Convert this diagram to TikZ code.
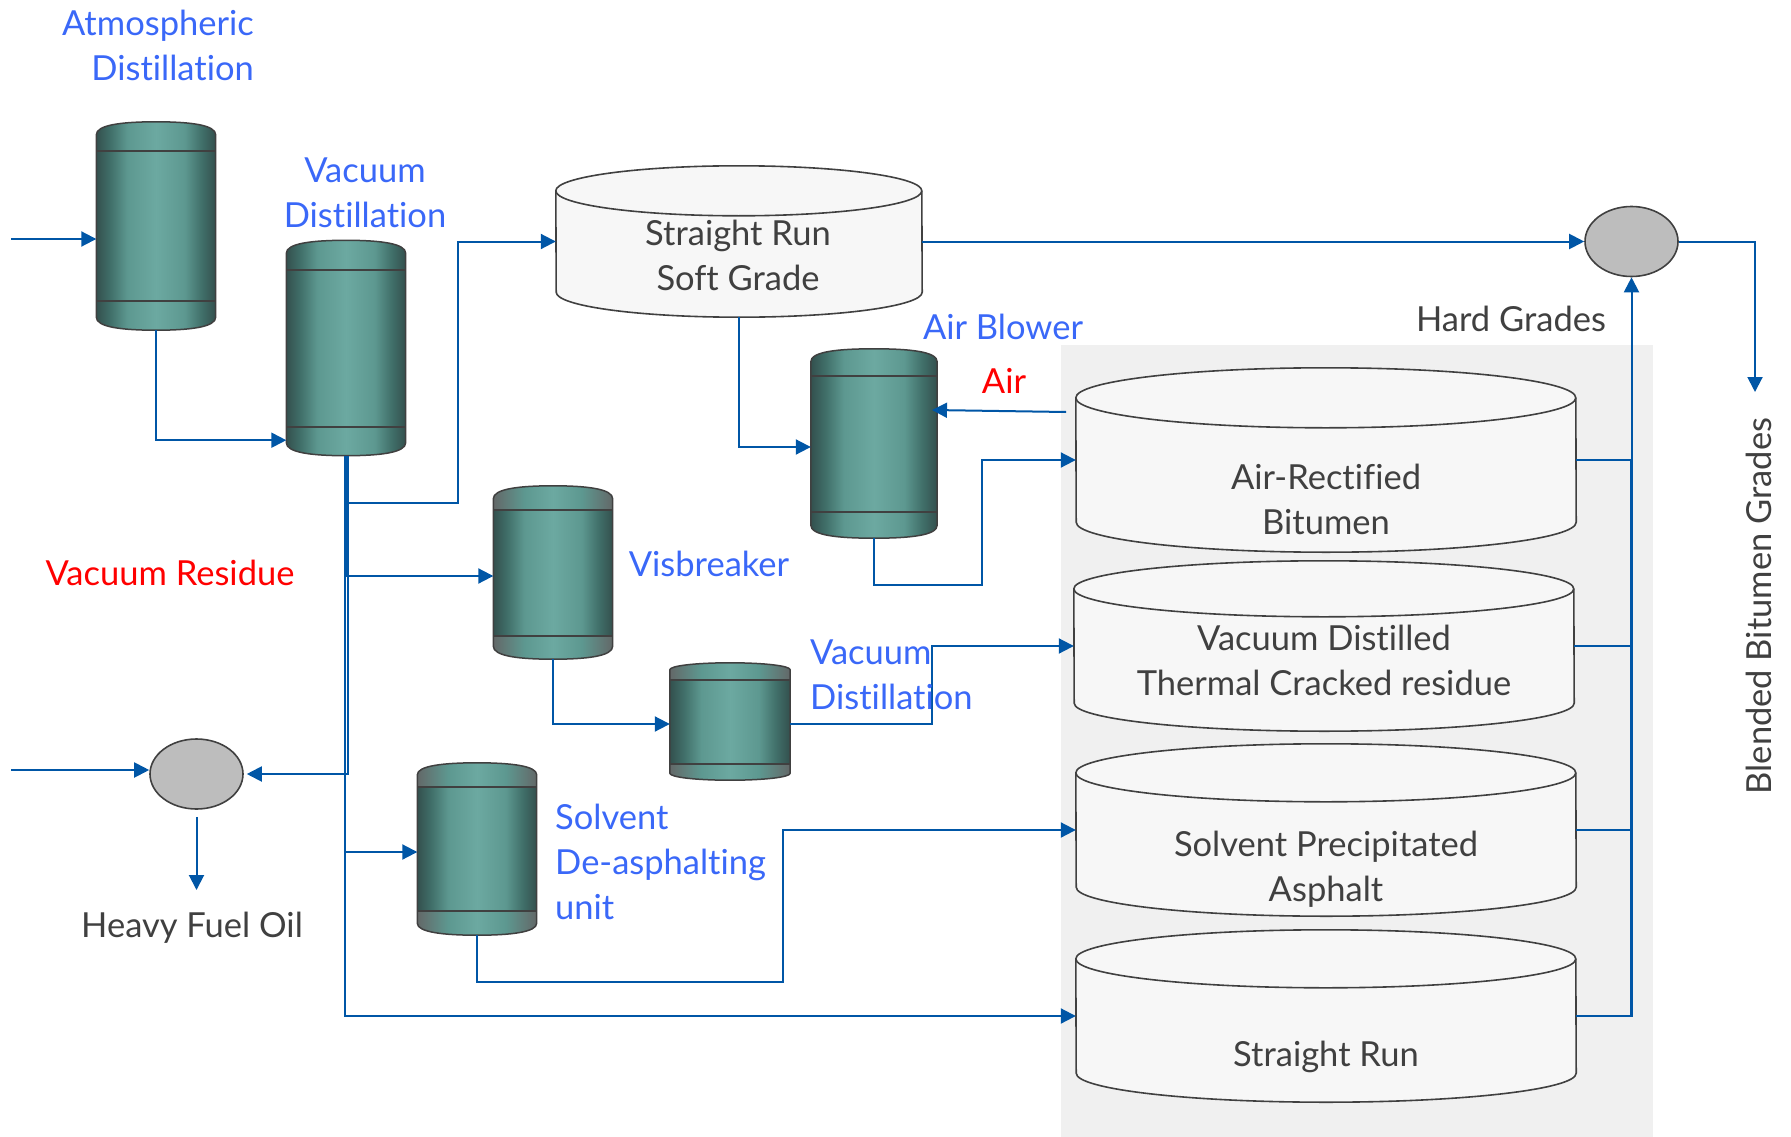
\documentclass[tikz,border=0pt]{standalone}
\usepackage{fontspec}
\setmainfont[Ligatures=NoCommon]{Lato}
\usetikzlibrary{arrows.meta,calc,shapes.geometric}
\definecolor{flowblue}{HTML}{0056A6}
\definecolor{labelblue}{HTML}{3A68F8}
\definecolor{labeldark}{HTML}{404040}
\definecolor{vesseldark}{HTML}{33504E}
\definecolor{vesselshade}{HTML}{41706A}
\definecolor{vesselmid}{HTML}{5D9890}
\definecolor{vessellight}{HTML}{6CA9A1}
\definecolor{capgrey}{HTML}{636868}
\definecolor{tankfill}{HTML}{F7F7F7}
\definecolor{panelfill}{HTML}{F0F0F0}
\definecolor{mixfill}{HTML}{BDBDBD}
\pgfdeclarehorizontalshading{vesselbody}{100bp}{color(0bp)=(vesseldark); color(25bp)=(vesseldark); color(31bp)=(vesselshade); color(38bp)=(vesselmid); color(50bp)=(vessellight); color(62bp)=(vesselmid); color(69bp)=(vesselshade); color(75bp)=(vesseldark); color(100bp)=(vesseldark)}
\pgfdeclarehorizontalshading{vesselcap}{100bp}{color(0bp)=(capgrey); color(25bp)=(capgrey); color(38bp)=(vesselmid); color(50bp)=(vessellight); color(62bp)=(vesselmid); color(75bp)=(capgrey); color(100bp)=(capgrey)}
\newcommand{\mysize}{\fontsize{34.5}{45}\selectfont}
\tikzset{
    node style tank/.style={rectangle,inner sep=0pt},
    node style mix/.style={draw=labeldark,line width=1.6pt,fill=mixfill,ellipse,inner sep=0pt,minimum width=93pt,minimum height=70pt},
    node style vessel/.style={rectangle,inner sep=0pt},
    node style label/.style={font=\mysize,text=labelblue,inner sep=0pt},
    node style name/.style={font=\mysize,text=labeldark,inner sep=0pt,align=center},
    line style flow/.style={draw=flowblue,line width=2pt},
    arrow style flow/.style={line style flow,-{Triangle[length=15pt,width=15pt]}},
    line style vessel/.style={draw=labeldark,line width=1.5pt},
    line style band/.style={draw=labeldark,line width=2.2pt},
    line style tank/.style={draw=labeldark,line width=1.6pt},
}
% #1 node, #2 top band, #3 bottom band, #4 shading of the caps, #5 height of the dome
\newcommand{\myvessel}[5]{
  \path[shading=#4] ($(#1.north west)+(0,#2)$) -- ($(#1.north west)+(0,#5)$) .. controls ($(#1.north west)+(0,3)$) and ($(#1.north west)+(26,0)$) .. (#1.north) .. controls ($(#1.north east)+(-26,0)$) and ($(#1.north east)+(0,3)$) .. ($(#1.north east)+(0,#5)$) -- ($(#1.north east)+(0,#2)$) -- cycle;
  \path[shading=vesselbody] ($(#1.north west)+(0,#2)$) rectangle ($(#1.south east)+(0,-#3)$);
  \path[shading=#4] ($(#1.south west)+(0,-#3)$) -- ($(#1.south west)+(0,-#5)$) .. controls ($(#1.south west)+(0,-3)$) and ($(#1.south west)+(26,0)$) .. (#1.south) .. controls ($(#1.south east)+(-26,0)$) and ($(#1.south east)+(0,-3)$) .. ($(#1.south east)+(0,-#5)$) -- ($(#1.south east)+(0,-#3)$) -- cycle;
  \draw[line style vessel] ($(#1.north west)+(0,#5)$) .. controls ($(#1.north west)+(0,3)$) and ($(#1.north west)+(26,0)$) .. (#1.north) .. controls ($(#1.north east)+(-26,0)$) and ($(#1.north east)+(0,3)$) .. ($(#1.north east)+(0,#5)$) -- ($(#1.south east)+(0,-#5)$) .. controls ($(#1.south east)+(0,-3)$) and ($(#1.south east)+(-26,0)$) .. (#1.south) .. controls ($(#1.south west)+(26,0)$) and ($(#1.south west)+(0,-3)$) .. ($(#1.south west)+(0,-#5)$) -- cycle;
  \draw[line style band] ($(#1.north west)+(0,#2)$) -- ($(#1.north east)+(0,#2)$);
  \draw[line style band] ($(#1.south west)+(0,-#3)$) -- ($(#1.south east)+(0,-#3)$);
}
% #1 node, #2 half width, #3 half height of the end
\newcommand{\mytank}[3]{
  \draw[line style tank,fill=tankfill] ($(#1.north west)+(0,#3)$) arc[start angle=180,end angle=0,x radius=#2pt,y radius=#3pt] -- ($(#1.south east)+(0,-#3)$) arc[start angle=0,end angle=-180,x radius=#2pt,y radius=#3pt] -- cycle;
  \draw[line style tank] ($(#1.north west)+(0,#3)$) arc[start angle=180,end angle=360,x radius=#2pt,y radius=#3pt];
}

\begin{document}
\begin{tikzpicture}[x=1pt,y=-1pt]
  \useasboundingbox (0,0) rectangle (1791,1137);
  \node [fill=panelfill,inner sep=0pt,minimum width=592pt,minimum height=792pt] (panel) at (1357,741) {};

  % vessels
  \node [node style vessel,minimum width=119pt,minimum height=208pt] (atm) at (156,226) {};
  \node [node style vessel,minimum width=119pt,minimum height=215pt] (vac) at (346,348) {};
  \node [node style vessel,minimum width=126pt,minimum height=189pt] (blower) at (874,443.5) {};
  \node [node style vessel,minimum width=119pt,minimum height=173pt] (visb) at (553,572.5) {};
  \node [node style vessel,minimum width=120pt,minimum height=117pt] (vacsmall) at (730,721.5) {};
  \node [node style vessel,minimum width=119pt,minimum height=172pt] (solv) at (477,849) {};

  % tanks
  \node [node style tank,minimum width=366pt,minimum height=151pt] (soft) at (739,241.5) {};
  \node [node style tank,minimum width=500pt,minimum height=184pt] (airtank) at (1326,460) {};
  \node [node style tank,minimum width=500pt,minimum height=170pt] (vactank) at (1324,646) {};
  \node [node style tank,minimum width=500pt,minimum height=172pt] (solvtank) at (1326,830) {};
  \node [node style tank,minimum width=500pt,minimum height=172pt] (srtank) at (1326,1016) {};

  \node [node style mix] (mixtop) at (1631.5,241.5) {};
  \node [node style mix] (mixoil) at (196.5,774) {};

  \myvessel{atm}{29}{29}{vesselbody}{13}
  \myvessel{vac}{30}{29}{vesselbody}{13}
  \myvessel{blower}{27}{26}{vesselbody}{13}
  \myvessel{visb}{24}{23}{vesselcap}{13}
  \myvessel{vacsmall}{17}{16}{vesselcap}{7}
  \myvessel{solv}{24}{24}{vesselcap}{12}

  \mytank{soft}{183}{25}
  \mytank{airtank}{250}{30}
  \mytank{vactank}{250}{28}
  \mytank{solvtank}{250}{29}
  \mytank{srtank}{250}{29}

  % free ends and corners
  \coordinate (crude) at (11,239);
  \coordinate (feedoil) at (11,770);
  \coordinate (oilout) at (196.5,890);
  \coordinate (blend) at (1755,392);
  \coordinate (airin) at (1066,412);
  \coordinate (airout) at (932,410);
  \coordinate (softup) at (458,503);
  \coordinate (blowdown) at (982,585);
  \coordinate (vacup) at (932,724);
  \coordinate (solvdown) at (783,982);
  \coordinate (hardup) at (1631,1016);

  % flows
  \draw [arrow style flow] (crude) -- ([yshift=-13pt]atm.west);
  \draw [arrow style flow] (atm.south) |- ([yshift=-110pt]atm.south -| vac.west);
  \draw [arrow style flow] ([xshift=1pt]vac.south) |- (softup) |- (soft.west);
  \draw [arrow style flow] (vac.south) |- ([yshift=-3.5pt]visb.west);
  \draw [arrow style flow] ([xshift=2pt]vac.south) |- ([xshift=3pt]mixoil.east);
  \draw [arrow style flow] ([xshift=-1pt]vac.south) |- ([yshift=-3pt]solv.west);
  \draw [arrow style flow] ([xshift=-1pt]vac.south) |- (srtank.west);
  \draw [arrow style flow] (feedoil) -- ([yshift=4pt]mixoil.west);
  \draw [arrow style flow] ([yshift=-7pt]mixoil.south) -- (oilout);
  \draw [arrow style flow] (soft.south) |- ([yshift=-3.5pt]blower.west);
  \draw [arrow style flow] (soft.east) -- (mixtop.west);
  \draw [arrow style flow] (airin) -- (airout);
  \draw [arrow style flow] (blower.south) |- (blowdown) |- (airtank.west);
  \draw [arrow style flow] (visb.south) |- ([yshift=-2.5pt]vacsmall.west);
  \draw [arrow style flow] ([yshift=-2.5pt]vacsmall.east) -| (vacup) |- (vactank.west);
  \draw [arrow style flow] (solv.south) |- (solvdown) |- (solvtank.west);
  \draw [line style flow] (airtank.east) -| (hardup);
  \draw [line style flow] (vactank.east) -| (hardup);
  \draw [line style flow] (solvtank.east) -| (hardup);
  \draw [arrow style flow] (srtank.east) -| (mixtop.south);
  \draw [arrow style flow] (mixtop.east) -| (blend);

  % labels
  \node [node style label,align=right,anchor=east] (latm) at (254,45) {Atmospheric\\Distillation};
  \node [node style label,align=center] (lvac) at (365,193) {Vacuum\\Distillation};
  \node [node style label] (lblower) at (1003,327) {Air Blower};
  \node [node style label,text=red] (lair) at (1004,381) {Air};
  \node [node style label] (lvisb) at (709,564) {Visbreaker};
  \node [node style label,text=red] (lres) at (170,573) {Vacuum Residue};
  \node [node style label,align=left,anchor=west] (lsmall) at (810,675) {Vacuum\\Distillation};
  \node [node style label,align=left,anchor=west] (lsolv) at (555,862) {Solvent\\De-asphalting\\unit};
  \node [node style name] (nfuel) at (192,928) {Heavy Fuel Oil};
  \node [node style name] (nhard) at (1511,319) {Hard Grades};
  \node [node style name] (nsoft) at (738,255) {Straight Run\\Soft Grade};
  \node [node style name] (nair) at (1326,499) {Air-Rectified\\Bitumen};
  \node [node style name] (nvac) at (1324,660) {Vacuum Distilled\\Thermal Cracked residue};
  \node [node style name] (nsolv) at (1326,869) {Solvent Precipitated\\Asphalt};
  \node [node style name] (nsr) at (1326,1057) {Straight Run};
  \node [node style name,rotate=90] (nblend) at (1759,606) {Blended Bitumen Grades};
\end{tikzpicture}
\end{document}
